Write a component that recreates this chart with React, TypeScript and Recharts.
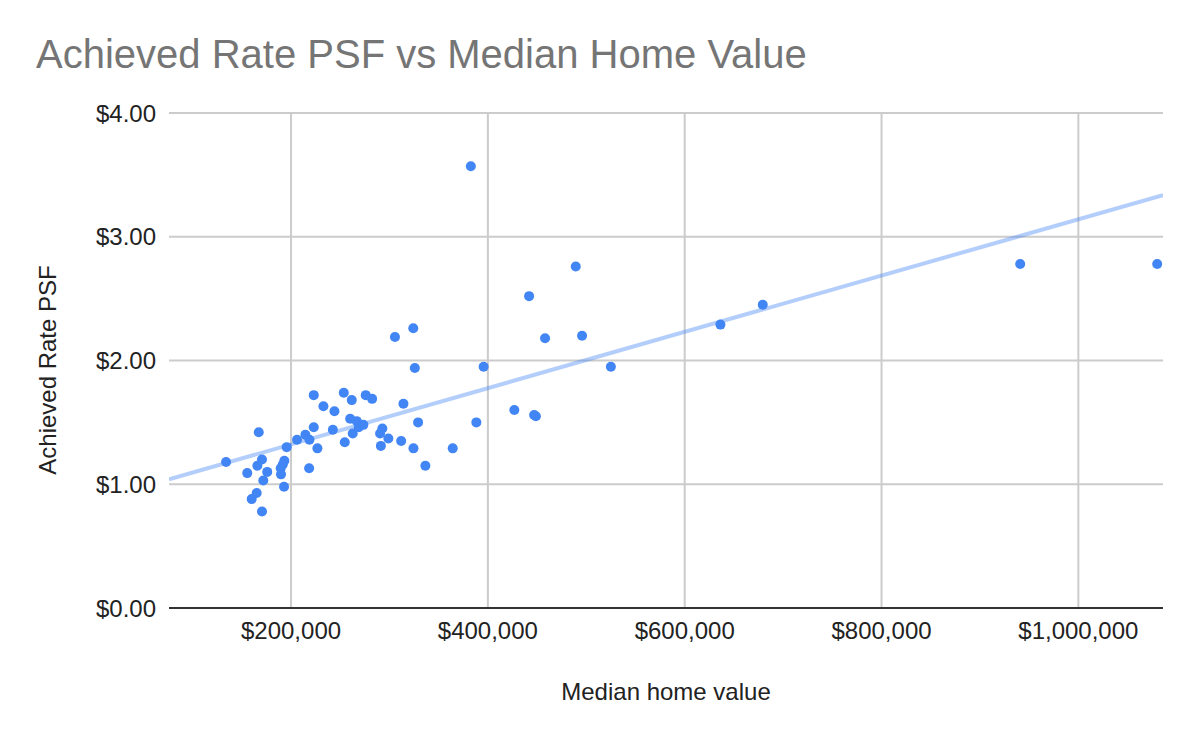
import { CartesianGrid, Scatter, ScatterChart, XAxis, YAxis } from "recharts";

// Median home value ($) and achieved rate per square foot ($), one entry per market
const homeValues = [
  134000, 167200, 170500, 165800, 155500, 175800, 171800, 165100, 160000, 170500,
  193200, 191600, 189500, 189800, 192900, 195600, 206100, 214600, 218700, 226800,
  218400, 223100, 223100, 232900, 244100, 242500, 253600, 261700, 254600, 260100,
  266800, 262700, 268800, 273500, 275900, 282400, 292800, 290500, 298900, 291300,
  311900, 324400, 329100, 336500, 314200, 325800, 305600, 324200, 395700, 441900,
  458100, 495700, 525000, 426900, 447000, 448800, 388300, 364300, 382700, 489300,
  636300, 679300, 940900, 1080100,
];
const ratePsf = [
  1.18, 1.42, 1.2, 1.15, 1.09, 1.1, 1.03, 0.93, 0.88, 0.78,
  1.19, 1.16, 1.13, 1.08, 0.98, 1.3, 1.36, 1.4, 1.36, 1.29,
  1.13, 1.46, 1.72, 1.63, 1.59, 1.44, 1.74, 1.68, 1.34, 1.53,
  1.51, 1.41, 1.46, 1.48, 1.72, 1.69, 1.45, 1.41, 1.37, 1.31,
  1.35, 1.29, 1.5, 1.15, 1.65, 1.94, 2.19, 2.26, 1.95, 2.52,
  2.18, 2.2, 1.95, 1.6, 1.56, 1.55, 1.5, 1.29, 3.57, 2.76,
  2.29, 2.45, 2.78, 2.78,
];

const xTicks = [200000, 400000, 600000, 800000, 1000000];
const yTicks = [0, 1, 2, 3, 4];
const xDomain = [76000, 1086000];

// linear trendline
const trendSlope = 2.274e-6;
const trendIntercept = 0.867;

const points = homeValues.map((x, i) => ({ x, y: ratePsf[i] }));
const trend = xDomain.map((x) => ({ x, y: trendIntercept + trendSlope * x }));

const FONT = '"Liberation Sans", Arial, sans-serif';

export default function App() {
  return (
    <div style={{ position: "absolute", left: 0, top: 0, width: 1200, height: 742, background: "#fff" }}>
      <ScatterChart
        width={1200}
        height={742}
        margin={{ top: 113, right: 37, bottom: 0, left: 0 }}
        style={{ fontFamily: FONT }}
      >
        <CartesianGrid
          stroke="#cccccc"
          strokeWidth={2}
          verticalValues={xTicks}
          horizontalValues={yTicks}
        />
        <XAxis
          type="number"
          dataKey="x"
          domain={xDomain}
          ticks={xTicks}
          allowDataOverflow
          height={134}
          tickLine={false}
          tickMargin={8}
          axisLine={{ stroke: "#333333", strokeWidth: 2 }}
          tick={{ fontSize: 24, fill: "#222222" }}
          tickFormatter={(v: number) => "$" + v.toLocaleString("en-US")}
        />
        <YAxis
          type="number"
          dataKey="y"
          domain={[0, 4]}
          ticks={yTicks}
          width={169}
          tickLine={false}
          axisLine={false}
          tickMargin={7}
          tick={{ fontSize: 24, fill: "#222222" }}
          tickFormatter={(v: number) => "$" + v.toFixed(2)}
        />
        <Scatter
          data={trend}
          line={{ stroke: "#4285F4", strokeOpacity: 0.4, strokeWidth: 4 }}
          shape={() => <g />}
          isAnimationActive={false}
        />
        <Scatter
          data={points}
          shape={(p: any) => <circle cx={p.cx} cy={p.cy} r={5} fill="#4285F4" />}
          isAnimationActive={false}
        />
      </ScatterChart>
      <svg
        width={1200}
        height={742}
        style={{ position: "absolute", left: 0, top: 0, pointerEvents: "none", fontFamily: FONT }}
      >
        <text x={36} y={68} fontSize={40} fill="#757575">
          Achieved Rate PSF vs Median Home Value
        </text>
        <text x={666} y={700} fontSize={24} fill="#222222" textAnchor="middle">
          Median home value
        </text>
        <text transform="translate(56,370) rotate(-90)" fontSize={24} fill="#222222" textAnchor="middle">
          Achieved Rate PSF
        </text>
      </svg>
    </div>
  );
}
